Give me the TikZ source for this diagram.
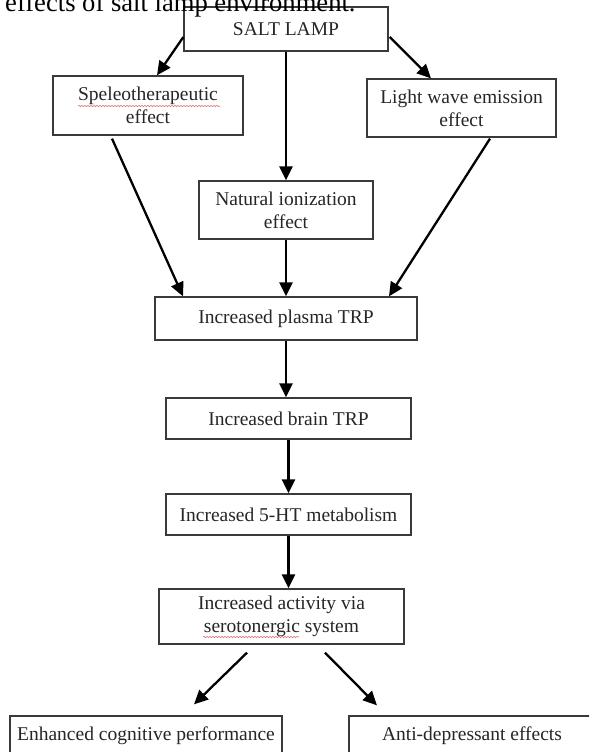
\documentclass[tikz,border=0pt]{standalone}
\usepackage{fontspec}
\setmainfont{Liberation Serif}
\usetikzlibrary{arrows.meta,decorations.pathmorphing,calc}
\definecolor{boxline}{HTML}{3A3A3A}
\definecolor{txt}{HTML}{262626}
\definecolor{squig}{HTML}{E07070}
\begin{document}
\begin{tikzpicture}[x=1pt,y=-1pt,
  box/.style={draw=boxline, line width=1.3pt, fill=white, inner sep=0pt, align=center,
    font=\fontsize{19.5}{23}\selectfont, text=txt},
  arr/.style={line width=2.3pt, draw=black, -{Triangle[length=14pt,width=13pt]}},
  wavy/.style={draw=squig, line width=0.6pt, decorate, decoration={snake, amplitude=0.7pt, segment length=3pt}}]
\useasboundingbox (0,0) rectangle (589,752);
\clip (0,0) rectangle (589,752);
\fill[white] (0,0) rectangle (589,752);

% boxes
\node[box, minimum width=204pt, minimum height=44pt] (sl) at (286,29) {SALT LAMP};
\node[box, minimum width=190pt, minimum height=59pt] (spel) at (148,105.5) {Speleotherapeutic\\effect};
\node[box, minimum width=189pt, minimum height=58pt] (light) at (461.5,108) {Light wave emission\\effect};
\node[box, minimum width=174pt, minimum height=58pt] (nat) at (286,210) {Natural ionization\\effect};
\node[box, minimum width=262pt, minimum height=43pt] (plasma) at (286,318.5) {Increased plasma TRP};
\node[box, minimum width=245pt, minimum height=41pt] (brain) at (288.5,418.5) {Increased brain TRP};
\node[box, minimum width=245pt, minimum height=41pt] (ht) at (288.5,514.5) {Increased 5-HT metabolism};
\node[box, minimum width=245pt, minimum height=55pt] (act) at (281.5,616.5) {Increased activity via\\serotonergic system};
\node[box, minimum width=272pt, text height=14pt, text depth=30pt, inner ysep=10pt, anchor=base] (enh) at (146,740) {Enhanced cognitive performance};
\node[box, minimum width=246pt, text height=14pt, text depth=30pt, inner ysep=10pt, anchor=base] (anti) at (472,740) {Anti-depressant effects};

% spell-check squiggles
\draw[wavy] (78,106) -- (220,106);
\draw[wavy] (203,637) -- (299,637);

% connector end points
\coordinate (slL) at ($(sl.west)+(0,8)$);
\coordinate (slR) at ($(sl.east)+(1,8)$);
\coordinate (spelIn) at ($(spel.north)+(9,0)$);
\coordinate (lightIn) at ($(light.north)+(-30.5,0)$);
\coordinate (spelOut) at ($(spel.south)+(-36,3)$);
\coordinate (lightOut) at ($(light.south)+(28.5,1)$);
\coordinate (plL) at ($(plasma.north)+(-103,0)$);
\coordinate (plR) at ($(plasma.north)+(103,0)$);
\coordinate (actL) at ($(act.south)+(-34.5,8)$);
\coordinate (actR) at ($(act.south)+(43.5,8)$);
\coordinate (enhIn) at ($(enh.north)+(48,-11)$);
\coordinate (antiIn) at ($(anti.north)+(-95,-10)$);

% connectors
\draw[arr] (slL) -- (spelIn);
\draw[arr] (slR) -- (lightIn);
\draw[arr] (sl.south) -- (nat.north);
\draw[arr] (spelOut) -- (plL);
\draw[arr] (lightOut) -- (plR);
\draw[arr] (nat.south) -- (plasma.north);
\draw[arr] (plasma.south) -- (plasma.south |- brain.north);
\draw[arr] (brain.south) -- (ht.north);
\draw[arr] (ht.south) -- (ht.south |- act.north);
\draw[arr] (actL) -- (enhIn);
\draw[arr] (actR) -- (antiIn);

% title fragment at the top
\node[anchor=base west, inner sep=0pt, font=\fontsize{26.6}{30}\selectfont, text=black] (title) at (5,12) {effects of salt lamp environment.};
\end{tikzpicture}
\end{document}
